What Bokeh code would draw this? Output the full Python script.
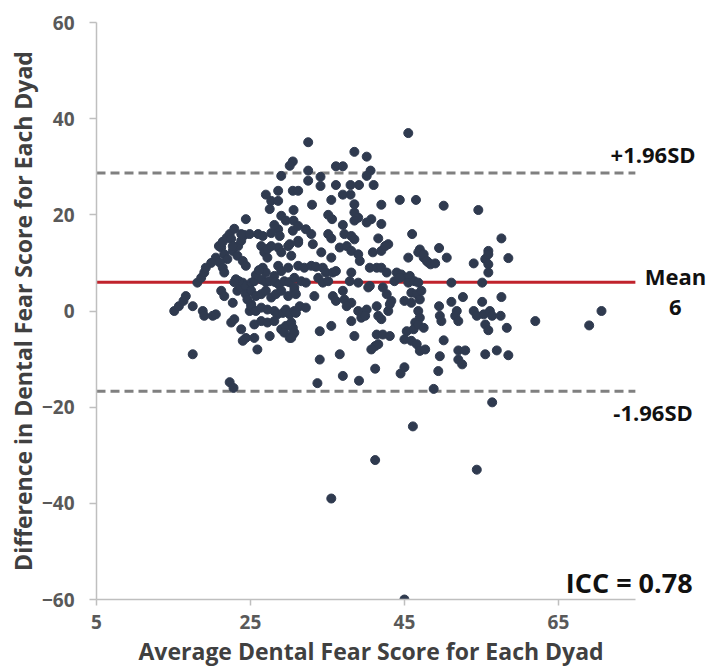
from bokeh.plotting import figure
from bokeh.models import Range1d, FixedTicker, Label, ColumnDataSource, Title
from bokeh.embed import file_html
from bokeh.resources import INLINE

# ---- data ----
avg_score = [
    15.1, 15.7, 16.3, 16.6, 17.5, 18.8, 19.0, 20.1,
    17.5, 18.1, 18.6, 19.0, 20.5, 21.2, 21.6, 22.5,
    22.9, 22.7, 23.3, 23.8, 24.0, 24.4, 23.5, 23.1,
    23.8, 24.4, 24.0, 24.4, 24.6, 25.1, 24.9, 25.1,
    25.5, 25.5, 25.9, 25.5, 27.5, 28.1, 28.5, 29.2,
    29.6, 30.1, 30.7, 29.0, 29.6, 29.4, 30.1, 30.5,
    # group 2
    21.2, 21.6, 22.0, 22.7, 23.3, 24.0, 24.4, 20.5,
    21.0, 21.4, 21.6, 26.4, 26.8, 27.2, 26.6, 27.0,
    28.6, 29.0, 29.9, 30.3, 28.6, 29.0, 28.1, 29.9,
    22.9, 25.7, 26.1, 26.5, 27.0, 27.5, 28.2, 28.7,
    29.4, 30.0, 25.1, 25.7, 26.4, 27.0, 27.7, 28.3,
    29.0, 29.9, 30.7, 25.1, 25.7, 26.4, 27.2, 26.4,
    27.2, 28.1, 20.9, 21.4, 21.9, 22.3, 22.9, 24.2,
    24.4, 23.4, 23.8, 19.9, 19.2, 30.5, 30.1, 29.0,
    27.0, 27.7, 28.6, 28.6, 30.5, 31.2, 27.5, 29.0,
    29.6, 23.8, 24.9, 26.0, 28.6, 28.8, 30.5, 31.2,
    22.5, 22.7, 27.2, 27.7, 30.1, 27.7, 28.1, 26.6,
    # group 3
    45.5, 32.5, 38.5, 40.1, 36.1, 37.0, 32.5, 40.6,
    32.5, 34.1, 34.1, 40.1, 36.1, 38.0, 39.1, 41.0,
    37.0, 38.0, 35.5, 33.0, 38.5, 42.0, 44.4, 46.5,
    30.6, 35.1, 35.6, 38.5, 39.0, 40.7, 40.1, 30.6,
    31.2, 37.0, 42.0, 38.5, 32.2, 32.9, 35.1, 35.5,
    37.2, 38.1, 38.5, 46.0, 41.6, 31.2, 42.9, 47.0,
    # group 4
    33.1, 34.2, 35.5, 36.6, 37.5, 38.1, 39.0, 39.2,
    40.9, 42.0, 42.5, 45.5, 46.8, 47.5, 48.1, 31.2,
    32.0, 32.9, 33.5, 34.4, 34.8, 35.7, 36.1, 38.1,
    40.5, 41.4, 42.0, 42.7, 44.0, 44.6, 45.3, 45.7,
    30.7, 31.6, 32.2, 33.8, 34.4, 35.1, 37.9, 39.0,
    40.5, 43.7, 44.4, 45.5, 46.3, 46.8, 30.7, 30.9,
    33.3, 35.7, 36.1, 37.0, 37.2, 38.1, 37.5, 40.3,
    42.2, 42.7, 43.3, 45.0, 45.9, 46.6, 47.0, 31.4,
    32.2, 30.9, 39.0, 39.6, 40.1, 39.4, 39.9, 41.4,
    41.6, 42.0, 42.9, 43.1, 45.9, 46.8, 47.0, 46.4,
    45.3, 46.2, 46.8, 47.5, 45.0, 45.9, 46.6, 47.0,
    47.7, 30.3, 30.5, 30.7, 30.3, 38.1, 35.5, 34.0,
    38.5, 41.4, 42.2, 43.1, 41.2, 41.6, 40.7, 34.0,
    36.6,
    # group 5
    50.1, 54.6, 57.6, 49.5, 55.9, 47.5, 47.9, 48.4,
    49.0, 50.5, 54.0, 55.5, 55.9, 55.9, 58.5, 55.9,
    51.1, 55.1, 47.2, 51.1, 52.6, 55.1, 57.6, 49.5,
    49.6, 49.8, 51.8, 51.6, 52.0, 54.0, 54.4, 55.3,
    56.1, 56.4, 55.5, 55.9, 62.0, 50.1, 49.6, 52.0,
    52.9, 52.0, 52.5, 55.5, 57.0, 58.5, 49.4, 41.2,
    35.5, 46.1, 45.0, 54.4, 56.4, 69.0, 70.6, 22.3,
    22.8, 33.7, 37.0, 39.1, 41.2, 44.5, 45.0, 48.8,
    58.3, 57.5,
]

diff_score = [
    0.0, 1.0, 2.1, 3.1, 1.0, 0.0, -1.0, -1.0,
    -9.0, 5.9, 6.9, 8.0, -0.7, 4.2, 3.1, -2.4,
    -1.7, 1.7, 4.2, 4.9, 5.9, 5.2, 6.2, 6.6,
    -3.8, -5.6, -6.2, 3.5, 2.4, 1.4, 0.0, 5.9,
    6.2, -2.8, -8.0, -5.6, -5.2, 0.0, -0.7, -0.4,
    0.3, -0.7, 0.0, -3.8, -3.1, -4.5, -5.6, -4.9,
    # group 2
    13.2, 11.8, 10.8, 12.5, 11.5, 10.4, 9.4, 11.1,
    10.1, 9.0, 8.0, 13.5, 12.2, 11.1, 9.0, 8.0,
    13.2, 12.2, 13.5, 11.5, 9.4, 8.3, 7.3, 9.0,
    6.0, 7.5, 8.5, 6.5, 6.0, 6.2, 6.0, 5.5,
    6.2, 6.0, 4.2, 3.1, 3.5, 4.2, 2.8, 3.5,
    4.2, 3.1, 4.2, 1.0, 0.0, 0.7, 0.3, -2.1,
    -2.4, -2.1, 13.5, 14.4, 15.2, 16.0, 17.1, 15.8,
    19.1, 13.5, 14.6, 10.0, 9.0, 31.1, 30.2, 28.1,
    24.2, 22.9, 25.0, 22.9, 25.0, 25.0, 21.2, 19.8,
    18.8, 16.0, 16.0, 16.0, 17.0, 15.6, 16.7, 14.6,
    15.0, 13.5, 12.9, 13.5, 13.9, 16.2, 17.9, 15.6,
    # group 3
    37.0, 35.1, 33.1, 32.1, 30.1, 30.1, 29.2, 29.2,
    27.1, 27.9, 26.0, 28.1, 26.2, 26.2, 26.2, 26.2,
    24.2, 24.2, 23.1, 22.1, 22.2, 22.1, 23.1, 23.1,
    21.0, 20.0, 19.1, 20.5, 19.4, 19.1, 18.4, 18.8,
    17.7, 17.9, 18.1, 18.8, 17.0, 16.0, 16.0, 15.1,
    16.0, 15.6, 14.9, 16.0, 15.1, 14.2, 13.9, 12.8,
    # group 4
    13.9, 12.2, 11.1, 13.2, 13.5, 12.5, 11.8, 10.4,
    12.2, 12.5, 13.5, 11.1, 12.2, 11.1, 10.1, 9.4,
    9.0, 9.4, 9.2, 9.0, 8.0, 8.0, 8.3, 8.0,
    9.0, 9.0, 9.0, 8.0, 8.0, 7.6, 6.9, 7.3,
    6.9, 6.2, 5.9, 6.9, 5.9, 6.2, 6.2, 5.9,
    5.2, 6.2, 6.9, 5.9, 6.2, 5.9, 4.9, 3.5,
    3.1, 3.1, 2.1, 4.2, 2.4, 1.7, 1.0, 4.9,
    4.9, 3.5, 2.1, 2.1, 3.8, 3.5, 2.4, 1.0,
    0.7, -0.4, 0.0, -0.4, 0.3, -1.4, -1.0, 1.0,
    -1.0, -1.7, 0.0, 1.4, 1.7, 0.0, -1.4, -2.4,
    -4.2, -3.8, -2.8, -3.5, -5.9, -6.2, -6.9, -8.3,
    -8.0, -2.4, -3.5, -4.5, -5.6, -2.1, -3.1, -4.2,
    -5.2, -4.9, -4.9, -5.2, -7.3, -6.9, -8.0, -10.1,
    -9.0,
    # group 5
    21.9, 21.0, 15.1, 13.1, 12.5, 11.8, 10.4, 9.7,
    9.9, 11.1, 9.9, 10.8, 11.8, 9.7, 11.0, 8.0,
    5.9, 5.9, 4.2, 1.9, 2.9, 1.9, 2.9, 1.0,
    -1.0, -2.1, 0.0, -1.0, -2.1, 0.0, -1.0, -0.7,
    0.0, -1.0, -2.8, -4.0, -2.1, -6.1, -9.4, -8.2,
    -8.2, -10.1, -11.1, -9.0, -8.2, -9.2, -12.5, -31.0,
    -39.0, -24.0, -60.0, -33.0, -19.0, -3.0, 0.0, -14.8,
    -16.0, -15.0, -13.5, -14.5, -12.0, -13.0, -11.7, -16.2,
    -3.5, -1.0,
]

x_min, x_max = 5, 75
y_min, y_max = -60, 60
x_ticks = [5, 25, 45, 65]
y_ticks = [-60, -40, -20, 0, 20, 40, 60]
mean_diff = 6
upper_loa = 28.7
lower_loa = -16.7
x_title = "Average Dental Fear Score for Each Dyad"
y_title = "Difference in Dental Fear Score for Each Dyad"
upper_text = "+1.96SD"
lower_text = "-1.96SD"
mean_text = "Mean"
mean_value_text = "6"
icc_text = "ICC = 0.78"

FONT = "Open Sans"

src = ColumnDataSource(data=dict(x=avg_score, y=diff_score))
ref_lines = ColumnDataSource(data=dict(
    x0=[x_min, x_min], x1=[x_max, x_max], y=[upper_loa, lower_loa]))
mean_line = ColumnDataSource(data=dict(x0=[x_min], x1=[x_max], y=[mean_diff]))

# frame extends right of x_max to hold the side annotations
p = figure(width=708, height=667, output_backend="svg", toolbar_location=None,
           x_range=Range1d(x_min, 84.5), y_range=Range1d(y_min, y_max),
           min_border_left=96, min_border_right=0, min_border_top=22, min_border_bottom=68)
p.background_fill_color = "white"
p.border_fill_color = "white"
p.outline_line_color = None
p.grid.visible = False

p.segment(x0="x0", y0="y", x1="x1", y1="y", source=ref_lines,
          line_color="#808080", line_width=3, line_dash="9 5")
p.segment(x0="x0", y0="y", x1="x1", y1="y", source=mean_line,
          line_color="#c0232c", line_width=3)

p.scatter("x", "y", source=src, size=9, marker="circle",
          fill_color="#2f3a4f", line_color="#2f3a4f")

for ax in (p.xaxis[0], p.yaxis[0]):
    ax.axis_line_color = "#bfbfbf"
    ax.axis_line_width = 1.5
    ax.major_tick_line_color = "#bfbfbf"
    ax.major_tick_line_width = 1.5
    ax.major_tick_in = 0
    ax.minor_tick_line_color = None
    ax.major_label_text_font = FONT
    ax.major_label_text_font_style = "bold"
    ax.major_label_text_font_size = "19px"
    ax.major_label_text_color = "#595959"
    ax.axis_label_text_font = FONT
    ax.axis_label_text_font_style = "bold"
    ax.axis_label_text_font_size = "23px"
    ax.axis_label_text_color = "#404040"

p.xaxis.bounds = (x_min, x_max)
p.xaxis.ticker = FixedTicker(ticks=x_ticks)
p.yaxis.ticker = FixedTicker(ticks=y_ticks)
p.yaxis.axis_label = y_title
p.xaxis.major_tick_out = 6
p.yaxis.major_tick_out = 7
p.xaxis.major_label_standoff = 9
p.yaxis.major_label_standoff = 15
p.yaxis.axis_label_standoff = 0

p.add_layout(Title(text=x_title, align="left", offset=42, standoff=2,
                   text_font=FONT, text_font_style="bold", text_font_size="23px",
                   text_color="#404040"), "below")

def add_label(x, y, text, size):
    p.add_layout(Label(x=x, y=y, text=text, text_font=FONT, text_font_style="bold",
                       text_font_size=size, text_color="#111111",
                       text_align="center", text_baseline="middle"))

add_label(77.3, 32.7, upper_text, "22px")
add_label(77.3, -21.0, lower_text, "22px")
add_label(80.2, 7.3, mean_text, "22px")
add_label(80.2, 0.8, mean_value_text, "22px")
add_label(74.2, -56.5, icc_text, "27px")

open("out.html", "w").write(file_html(p, INLINE))
